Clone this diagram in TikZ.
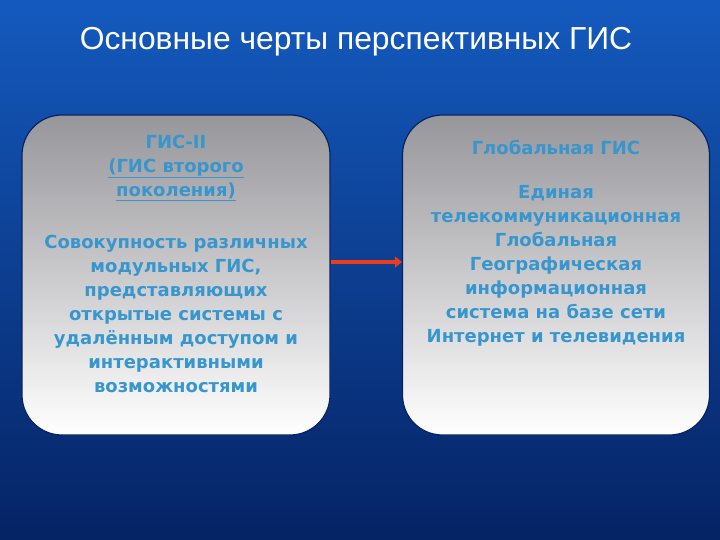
\documentclass[tikz,border=0pt]{standalone}
\usepackage{fontspec}
\setmainfont{DejaVu Sans}
\newfontfamily\titlefont{Liberation Sans}
\usetikzlibrary{arrows.meta}
\definecolor{bgtop}{RGB}{20,90,190}
\definecolor{bgbot}{RGB}{5,35,100}
\definecolor{txtblue}{RGB}{55,150,205}
\definecolor{boxtop}{RGB}{150,150,155}
\definecolor{arr}{RGB}{235,60,30}
\tikzset{
 panel/.style={rounded corners=40pt, top color=boxtop, bottom color=white, draw=bgbot, line width=1.2pt},
 ptxt/.style={font=\bfseries\fontsize{18}{24}\selectfont, text=txtblue, align=center},
}
\begin{document}
\begin{tikzpicture}[x=1pt,y=-1pt]
\path[use as bounding box, top color=bgtop, bottom color=bgbot] (0,0) rectangle (720,540);
\node[text=white, font=\titlefont\fontsize{31.8}{36}\selectfont] (title) at (356,42) {Основные черты перспективных ГИС};
\node[panel, minimum width=308pt, minimum height=320pt] (L) at (176,275) {};
\node[panel, minimum width=307pt, minimum height=320pt] (R) at (556,275) {};
\node[ptxt] (lh) at (176,168) {ГИС-II\\\underline{(ГИС второго}\\\underline{поколения)}};
\node[ptxt] (lb) at (176,314) {Совокупность различных\\модульных ГИС,\\представляющих\\открытые системы с\\удалённым доступом и\\интерактивными\\возможностями};
\node[ptxt] (rh) at (556,147) {Глобальная ГИС};
\node[ptxt] (rb) at (556,266) {Единая\\телекоммуникационная\\Глобальная\\Географическая\\информационная\\система на базе сети\\Интернет и телевидения};
\draw[arr, line width=4pt, -{Triangle[length=7pt,width=11pt]}] (L.east |- 0,262) -- (R.west |- 0,262);
\end{tikzpicture}
\end{document}
